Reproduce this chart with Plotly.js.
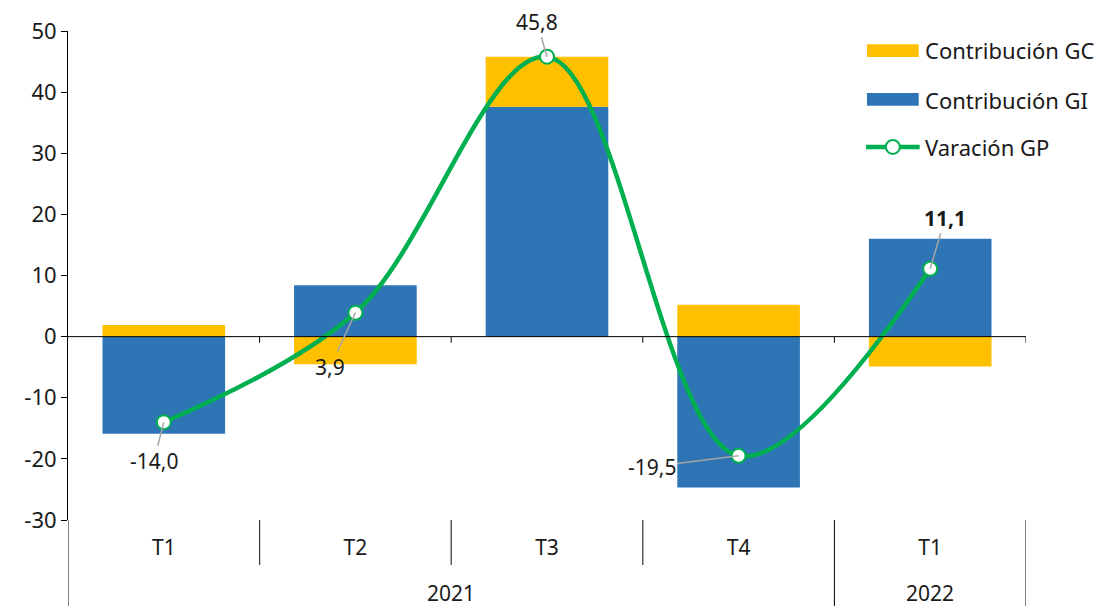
<!DOCTYPE html>
<html>
<head>
<meta charset="utf-8">
<script src="https://cdn.plot.ly/plotly-3.0.1.min.js"></script>
<style>
  html, body { margin: 0; padding: 0; background: #ffffff; }
  #chart { width: 1104px; height: 606px; }
</style>
</head>
<body>
<div id="chart"></div>
<script>
// Quarterly contributions to GP variation (%)
const quarters = ['T1', 'T2', 'T3', 'T4', 'T1'];
const years = ['2021', '2022'];
const quartersPerYear = [4, 1];

const contribGI = [-15.9, 8.4, 37.6, -24.7, 16.0];
const contribGC = [1.9, -4.5, 8.2, 5.2, -4.9];
const variacionGP = [-14.0, 3.9, 45.8, -19.5, 11.1];

const seriesNames = ['Contribución GC', 'Contribución GI', 'Varación GP'];
const yTicks = [-30, -20, -10, 0, 10, 20, 30, 40, 50];

const FONT = '"Noto Sans", "Open Sans", sans-serif';
const TEXT = '#1a1a1a';
const YELLOW = '#FFC000';
const BLUE = '#2E75B6';
const GREEN = '#00B050';

const idx = quarters.map((_, i) => i);
const fmt = v => v.toFixed(1).replace('.', ',');

const traces = [
  { type: 'bar', x: idx, y: contribGI, name: seriesNames[1], width: 0.64,
    marker: { color: BLUE }, showlegend: false, hoverinfo: 'skip' },
  { type: 'bar', x: idx, y: contribGC, name: seriesNames[0], width: 0.64,
    marker: { color: YELLOW }, showlegend: false, hoverinfo: 'skip' },
  { type: 'scatter', mode: 'lines+markers', x: idx, y: variacionGP, name: seriesNames[2],
    line: { color: GREEN, width: 4.5, shape: 'spline', smoothing: 1 },
    marker: { size: 14, color: '#ffffff', line: { color: GREEN, width: 2 } },
    showlegend: false, hoverinfo: 'skip' }
];

// value labels with leader lines: [dx, dy] offset of each label from its point
const labelOffsets = [[-10, 39], [-25, 54], [-10, -35], [-87, 11], [15, -51]];
const annotations = variacionGP.map((v, i) => ({
  x: i, y: v, xref: 'x', yref: 'y',
  text: i === variacionGP.length - 1 ? '<b>' + fmt(v) + '</b>' : fmt(v),
  showarrow: true, arrowhead: 0, arrowwidth: 1.5, arrowcolor: '#A6A6A6',
  ax: labelOffsets[i][0], ay: labelOffsets[i][1], standoff: 0,
  font: { family: FONT, size: 21, color: TEXT }
}));

// year labels centred under their quarters
const shapes = [];
let start = 0;
const yearStarts = [];
years.forEach((yr, k) => {
  const n = quartersPerYear[k];
  yearStarts.push(start);
  annotations.push({
    x: start + (n - 1) / 2, y: -0.149, xref: 'x', yref: 'paper',
    text: yr, showarrow: false, yanchor: 'middle',
    font: { family: FONT, size: 21, color: TEXT }
  });
  start += n;
});

// category dividers below the plot: tall at year boundaries, short between quarters
for (let b = 0; b <= quarters.length; b++) {
  const outer = yearStarts.includes(b) || b === quarters.length;
  shapes.push({
    type: 'line', xref: 'x', yref: 'paper', x0: b - 0.5, x1: b - 0.5,
    y0: 0, y1: outer ? -0.18 : -0.092,
    line: { color: outer ? '#000000' : '#404040', width: outer ? 1 : 1.3 }
  });
}

// zero axis with its tick marks at category boundaries
shapes.push({ type: 'line', xref: 'x', yref: 'y', x0: -0.5, x1: quarters.length - 0.5,
  y0: 0, y1: 0, layer: 'above', line: { color: '#000000', width: 1 } });
for (let b = 1; b <= quarters.length; b++) {
  shapes.push({ type: 'line', xref: 'x', yref: 'y', x0: b - 0.5, x1: b - 0.5,
    y0: 0, y1: -1, layer: 'above', line: { color: '#000000', width: 1 } });
}

// legend (top right)
const legendRows = [0.961, 0.859, 0.763];
shapes.push({ type: 'rect', xref: 'paper', yref: 'paper', x0: 0.834, x1: 0.888,
  y0: 0.947, y1: 0.973, line: { width: 0 }, fillcolor: YELLOW });
shapes.push({ type: 'rect', xref: 'paper', yref: 'paper', x0: 0.834, x1: 0.888,
  y0: 0.847, y1: 0.873, line: { width: 0 }, fillcolor: BLUE });
shapes.push({ type: 'line', xref: 'paper', yref: 'paper', x0: 0.833, x1: 0.889,
  y0: legendRows[2], y1: legendRows[2], line: { color: GREEN, width: 4.5 } });
shapes.push({ type: 'circle', xref: 'paper', yref: 'paper',
  xsizemode: 'pixel', ysizemode: 'pixel', xanchor: 0.861, yanchor: legendRows[2],
  x0: -7, x1: 7, y0: -7, y1: 7, fillcolor: '#ffffff', line: { color: GREEN, width: 2 } });
seriesNames.forEach((name, i) => {
  annotations.push({
    x: 0.893, y: legendRows[i], xref: 'paper', yref: 'paper',
    xanchor: 'left', yanchor: 'middle', text: name, showarrow: false,
    font: { family: FONT, size: 22, color: TEXT }
  });
});

const layout = {
  width: 1104, height: 606,
  margin: { l: 68, r: 78, t: 31, b: 86 },
  paper_bgcolor: '#ffffff', plot_bgcolor: '#ffffff',
  font: { family: FONT, size: 21, color: TEXT },
  barmode: 'relative',
  showlegend: false,
  xaxis: {
    range: [-0.5, quarters.length - 0.5],
    tickvals: idx, ticktext: quarters, ticks: '',
    showline: false, showgrid: false, zeroline: false,
    ticklabelstandoff: 13,
    tickfont: { family: FONT, size: 21, color: TEXT }
  },
  yaxis: {
    range: [-30, 50],
    tickvals: yTicks, ticktext: yTicks.map(String),
    ticks: 'outside', ticklen: 6, tickcolor: '#000000', tickwidth: 1,
    showline: true, linecolor: '#000000', linewidth: 1,
    showgrid: false, zeroline: false,
    tickfont: { family: FONT, size: 22, color: TEXT }
  },
  shapes: shapes,
  annotations: annotations
};

Plotly.newPlot('chart', traces, layout, { displayModeBar: false, staticPlot: true });
</script>
</body>
</html>
